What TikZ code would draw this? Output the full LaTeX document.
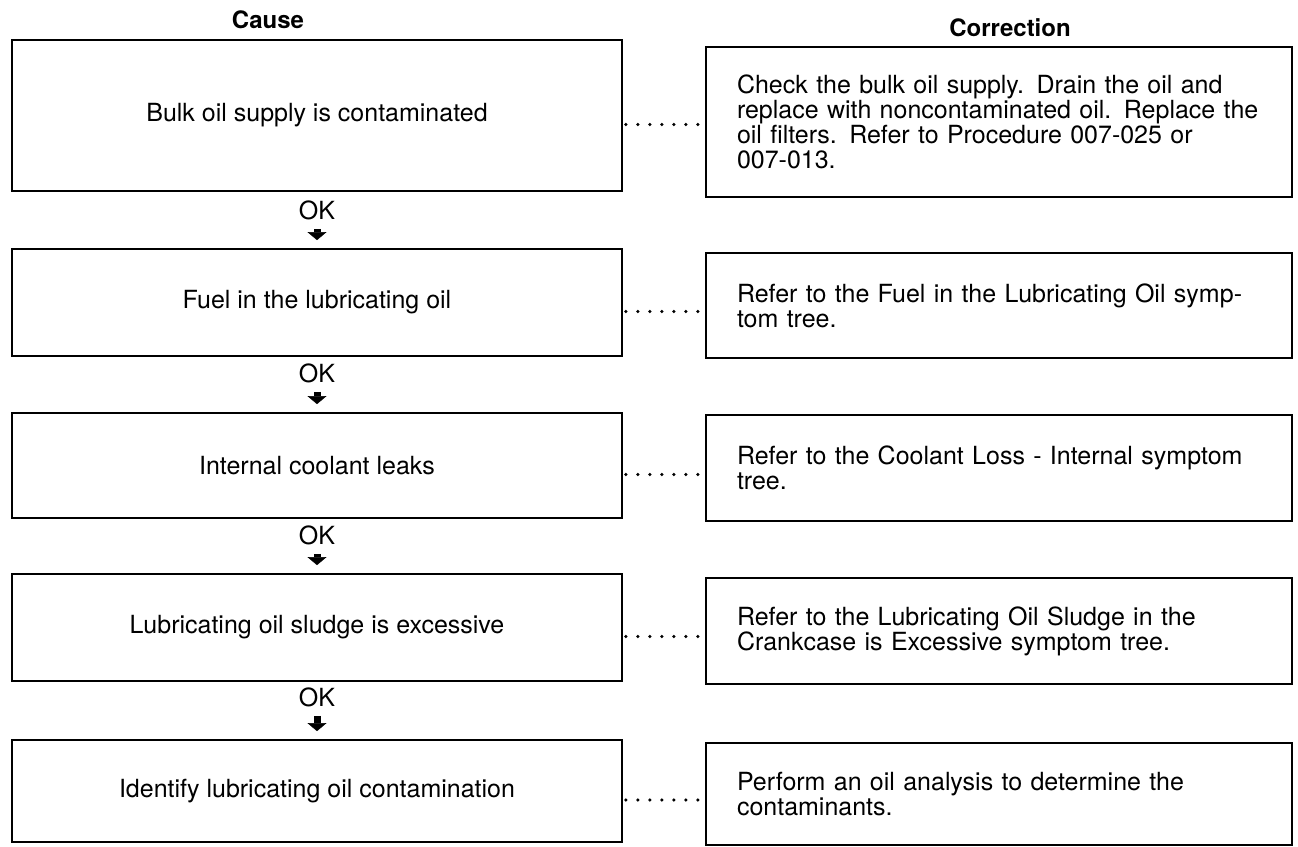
\documentclass[tikz,border=0pt]{standalone}
\usepackage{fontspec}
\setmainfont{TeX Gyre Heros}
\usetikzlibrary{arrows.meta,positioning}
\tikzset{
  every node/.style={font=\fontsize{25pt}{25pt}\selectfont},
  head/.style={font=\fontsize{24pt}{24pt}\selectfont\bfseries},
  causebox/.style={draw, line width=1.8pt, minimum width=610pt, inner sep=0pt},
  corrbox/.style={draw, line width=1.8pt, text width=524pt, inner xsep=31pt, inner ysep=0pt, align=left},
  oklabel/.style={inner sep=0pt},
  okarrow/.style={line width=7pt, -{Triangle[width=19pt,length=8pt,line width=0.4pt]}, shorten <=9pt, shorten >=8pt},
  dotline/.style={line width=3.6pt, line cap=round, dash pattern=on 0pt off 12pt, shorten <=3pt, shorten >=6pt}
}
\begin{document}
\begin{tikzpicture}[x=1pt, y=-1pt]
\useasboundingbox (0,0) rectangle (1298,846);
% Titulos
\node[head] (cause) at (268,20) {Cause};
\node[head] (corr) at (1010,28) {Correction};
% Causas
\node[causebox, minimum height=151pt] (cause1) at (317,115.5) {Bulk oil supply is contaminated};
\node[causebox, minimum height=107pt] (cause2) at (317,302.5) {Fuel in the lubricating oil};
\node[causebox, minimum height=105pt] (cause3) at (317,465.5) {Internal coolant leaks};
\node[causebox, minimum height=107pt] (cause4) at (317,627.5) {Lubricating oil sludge is excessive};
\node[causebox, minimum height=102pt] (cause5) at (317,791) {Identify lubricating oil contamination};
% Correcciones
\node[corrbox, minimum height=150pt] (corr1) at (999,122) {Check the bulk oil supply. Drain the oil and\\
  replace with noncontaminated oil. Replace the\\
  oil filters. Refer to Procedure 007-025 or\\
  007-013.};
\node[corrbox, minimum height=105pt] (corr2) at (999,305.5) {Refer to the Fuel in the Lubricating Oil symp-\\
  tom tree.};
\node[corrbox, minimum height=106pt] (corr3) at (999,468) {Refer to the Coolant Loss - Internal symptom\\
  tree.};
\node[corrbox, minimum height=106pt] (corr4) at (999,631) {Refer to the Lubricating Oil Sludge in the\\
  Crankcase is Excessive symptom tree.};
\node[corrbox, minimum height=102pt] (corr5) at (999,794) {Perform an oil analysis to determine the\\
  contaminants.};
% OK y flechas
\node[oklabel] (ok1) at (317,210) {OK};
\node[oklabel] (ok2) at (317,373) {OK};
\node[oklabel] (ok3) at (317,535) {OK};
\node[oklabel] (ok4) at (317,697) {OK};
\foreach \i/\j in {1/2,2/3,3/4,4/5}
  \draw[okarrow] (ok\i) -- (cause\j);
% Lineas de puntos
\foreach \i in {1,...,5}
  \draw[dotline] ([yshift=-9pt]cause\i.east) -- ([yshift=-9pt]cause\i.east -| corr\i.west);
\end{tikzpicture}
\end{document}
